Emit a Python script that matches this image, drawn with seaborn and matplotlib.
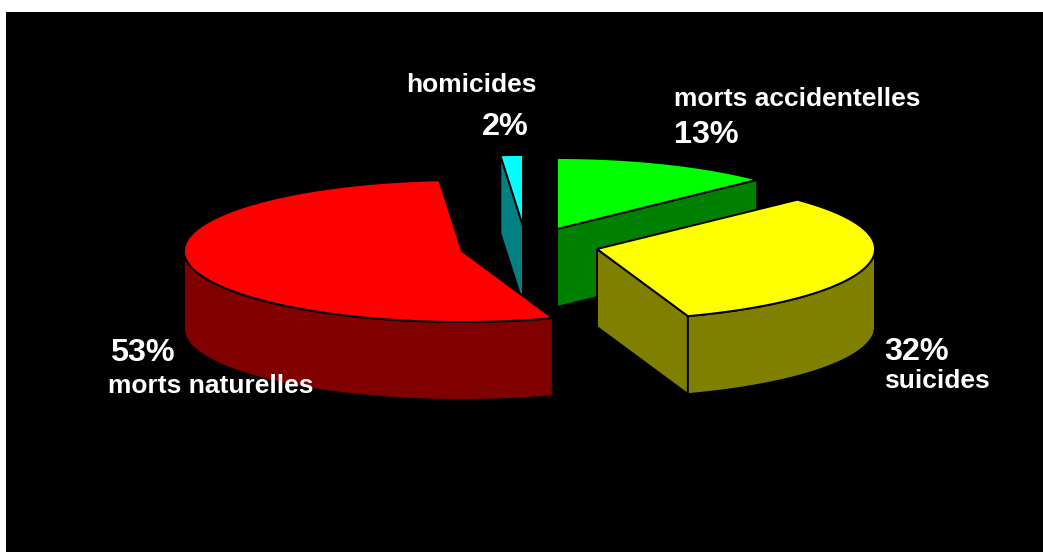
import numpy as np
import matplotlib
matplotlib.use("Agg")
import matplotlib.pyplot as plt
from matplotlib.patches import Polygon
import seaborn as sns

# --- data ---
categories = ["morts accidentelles", "suicides", "morts naturelles", "homicides"]
shares = [12.8, 31.9, 54.0, 1.3]
percent_labels = ["13%", "32%", "53%", "2%"]
top_colors = ["#00ff00", "#ffff00", "#ff0000", "#00ffff"]

# --- layout (pixel space of the picture) ---
W, H = 1043, 552
centers = [(557, 229), (597, 249), (462, 251), (523, 226)]
RX, RY = 278, 71
DEPTH = 78
draw_order = [0, 3, 2, 1]
name_pos = [(674, 99), (884, 381), (108, 386), (406, 85)]
pct_pos = [(674, 135), (884, 352), (110, 353), (482, 127)]
NAME_SIZE, PCT_SIZE = 19, 23.3

sns.set_theme(style="white", rc={"figure.facecolor": "white", "axes.facecolor": "black"})
plt.rcParams["font.family"] = ["Liberation Sans", "DejaVu Sans"]

fig = plt.figure(figsize=(W / 100, H / 100), dpi=100)
ax = fig.add_axes([6 / W, 0, (W - 6) / W, (H - 12) / H])
ax.set_xlim(6, W)
ax.set_ylim(H, 12)
ax.axis("off")
ax.add_patch(plt.Rectangle((6, 12), W - 6, H - 12, fc="black", ec="none", zorder=0))


def darker(c):
    r, g, b = matplotlib.colors.to_rgb(c)
    return (r * 0.5, g * 0.5, b * 0.5)


def rim(cx, cy, a0, a1, n=120):
    t = np.radians(np.linspace(a0, a1, n))
    return np.column_stack([cx + RX * np.sin(t), cy - RY * np.cos(t)])


edges = np.cumsum([0] + shares) / sum(shares) * 360
z = 2
down = np.array([0, DEPTH])
for i in draw_order:
    a0, a1 = edges[i], edges[i + 1]
    cx, cy = centers[i]
    top = rim(cx, cy, a0, a1)
    side = darker(top_colors[i])

    # cut walls that face the viewer
    if np.sin(np.radians(a1)) > 1e-6:
        p = np.array([[cx, cy], top[-1], top[-1] + down, [cx, cy + DEPTH]])
        ax.add_patch(Polygon(p, fc=side, ec="black", lw=1.4, zorder=z))
    if np.sin(np.radians(a0)) < -1e-6:
        p = np.array([[cx, cy], top[0], top[0] + down, [cx, cy + DEPTH]])
        ax.add_patch(Polygon(p, fc=side, ec="black", lw=1.4, zorder=z))

    # outer wall: the front half of the rim only
    lo, hi = max(a0, 90), min(a1, 270)
    if lo < hi:
        arc = rim(cx, cy, lo, hi)
        p = np.vstack([arc, (arc + down)[::-1]])
        ax.add_patch(Polygon(p, fc=side, ec="black", lw=1.4, zorder=z))

    # top face
    p = np.vstack([[cx, cy], top])
    ax.add_patch(Polygon(p, fc=top_colors[i], ec="black", lw=1.4, zorder=z + 0.5))
    z += 1

text_kw = dict(color="white", fontweight="bold", va="center", ha="left", zorder=20)
for name, pct, np_, pp in zip(categories, percent_labels, name_pos, pct_pos):
    ax.text(*np_, name, fontsize=NAME_SIZE, **text_kw)
    ax.text(*pp, pct, fontsize=PCT_SIZE, **text_kw)

fig.savefig("out.png", dpi=100, facecolor="white")
